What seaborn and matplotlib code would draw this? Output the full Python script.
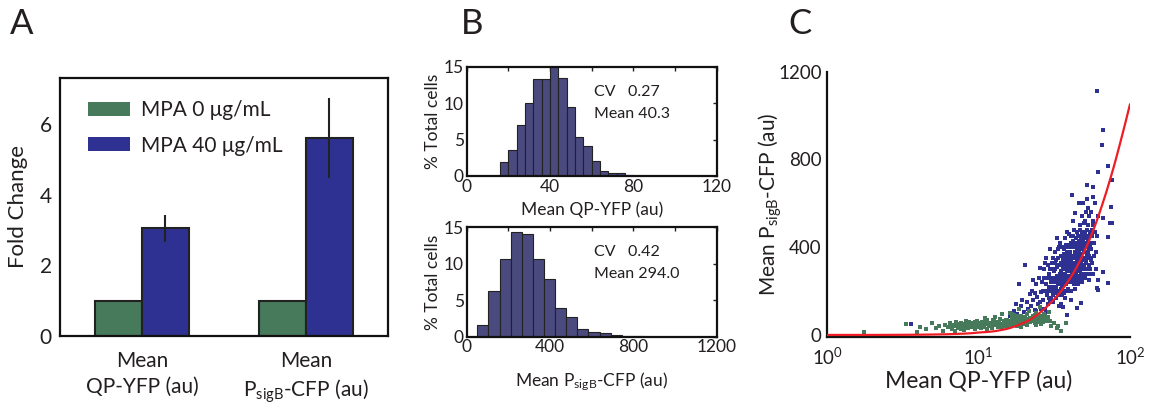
import matplotlib
matplotlib.use("Agg")
import matplotlib.pyplot as plt
import seaborn as sns
import pandas as pd
from matplotlib.patches import Patch
from matplotlib.ticker import MultipleLocator, FixedLocator, LogLocator, NullFormatter

# ---------------- Panel A data ----------------
bar_groups = ["Mean\nQP-YFP (au)", "Mean\nP$_{sigB}$-CFP (au)"]
conditions = ["MPA 0 μg/mL", "MPA 40 μg/mL"]
fold_mpa0 = [1.0, 1.0]
fold_mpa40 = [3.05, 5.6]
err_mpa0 = [0.02, 0.02]
err_mpa40 = [0.38, 1.12]

# ---------------- Panel B data ----------------
qp_edges = [16, 20, 24, 28, 32, 36, 40, 44, 48, 52, 56, 60, 64, 68, 72, 76, 80, 84]
qp_pct = [1.9, 3.5, 7.0, 10.0, 13.3, 13.3, 14.9, 13.4, 9.5, 5.3, 4.1, 2.1, 0.65, 0.4, 0.4, 0.15, 0.05]
qp_stats = ["CV   0.27", "Mean 40.3"]

sigb_edges = [51, 104, 158, 211, 264, 318, 371, 424, 478, 531, 584, 638, 691, 744, 798, 851]
sigb_pct = [1.6, 6.2, 10.7, 14.3, 14.1, 10.6, 7.9, 3.9, 2.7, 1.0, 0.7, 0.45, 0.2, 0.15, 0.1]
sigb_stats = ["CV   0.42", "Mean 294.0"]

# ---------------- Panel C data ----------------
blue_x = [16.2, 17.0, 18.0, 18.6, 19.0, 19.8, 20.3, 20.8, 21.3, 21.7, 19.3, 17.6,
          22.2, 22.6, 23.0, 23.4, 23.8, 24.2, 24.6, 25.0, 25.5, 25.8, 22.8, 24.0, 25.3, 23.6,
          26.2, 26.5, 26.9, 27.3, 27.6, 27.9, 28.2, 28.5, 28.8, 29.1, 29.4, 29.7, 26.0, 27.0, 28.0, 29.0, 29.9, 26.7, 28.6, 27.5,
          30.2, 30.5, 30.8, 31.0, 31.3, 31.6, 31.9, 32.2, 32.5, 32.8, 33.0, 33.3, 33.6, 33.9, 34.2, 34.5, 34.8,
          30.4, 31.2, 32.0, 32.6, 33.4, 34.0, 34.6, 30.9, 31.8, 33.1, 34.4, 32.3, 30.1, 34.9, 33.7,
          35.1, 35.3, 35.6, 35.8, 36.0, 36.2, 36.5, 36.7, 37.0, 37.2, 37.4, 37.7, 37.9, 38.1, 38.3, 38.6, 38.8, 39.0, 39.2, 39.5,
          39.7, 39.9, 35.4, 35.9, 36.4, 36.9, 37.3, 37.8, 38.2, 38.7, 39.1, 39.6, 35.7, 36.6, 37.5, 38.4, 39.3, 36.1, 37.6, 38.9,
          40.1, 40.3, 40.5, 40.8, 41.0, 41.2, 41.5, 41.7, 42.0, 42.2, 42.4, 42.7, 42.9, 43.1, 43.4, 43.6, 43.9, 44.1, 44.4, 44.7,
          44.9, 40.2, 40.7, 41.1, 41.6, 41.9, 42.3, 42.8, 43.2, 43.7, 44.2, 44.6, 40.4, 41.3, 42.6, 43.3, 44.0, 44.8, 40.9, 43.8,
          45.1, 45.3, 45.6, 45.8, 46.0, 46.2, 46.5, 46.8, 47.0, 47.2, 47.5, 47.7, 48.0, 48.2, 48.5, 48.7, 49.0, 49.2, 49.5, 49.8,
          45.5, 46.1, 46.6, 47.1, 47.6, 48.1, 48.6, 49.1, 49.6, 45.9, 46.9, 47.9, 48.9, 49.4, 45.2,
          50.1, 50.4, 50.8, 51.1, 51.4, 51.8, 52.1, 52.5, 52.8, 53.2, 53.6, 54.0, 54.4, 54.8, 50.6, 51.6, 52.3, 53.0, 53.9, 54.6,
          50.2, 51.2, 52.7, 53.4, 54.2,
          55.2, 55.8, 56.3, 56.9, 57.5, 58.2, 58.8, 59.5, 60.3, 61.0, 55.5, 57.0, 58.5, 60.0, 61.5,
          36.3, 38.2, 44.5, 47.6, 41.0,
          60.3, 66.7, 65.0, 61.8, 71.2, 75.8, 74.7, 74.0, 71.8, 60.3, 41.2, 52.0, 56.7, 57.3, 66.7, 75.8, 71.9,
          66.7, 71.9, 61.8, 3.6,
          33.2, 33.8, 34.3, 35.2, 35.5, 36.3, 36.8, 37.1, 37.9, 38.5, 39.4, 39.8, 40.6, 41.4, 41.8, 42.5, 43.0, 43.5, 44.3, 44.9,
          45.4, 46.3, 46.7, 47.3, 47.8, 48.3, 48.8, 49.3, 49.7, 50.3, 50.9, 51.5, 52.0, 52.6, 53.3, 53.8, 54.5, 55.0, 56.0, 57.2,
          33.5, 34.1, 35.0, 35.8, 36.4, 37.0, 37.7, 38.3, 39.0, 39.7, 40.3, 41.0, 41.7, 42.4, 43.1, 43.8, 44.5, 45.2, 45.9, 46.6,
          47.3, 48.0, 48.7, 49.4, 50.1, 51.0, 52.0, 53.0, 54.0, 55.5,
          28.4, 29.3, 30.6, 31.5, 32.4, 30.0, 31.0, 32.0, 29.5, 27.8]
blue_y = [85, 110, 95, 231, 130, 105, 319, 150, 120, 185, 160, 140,
          130, 200, 160, 115, 230, 175, 140, 260, 304, 195, 250, 110, 150, 190,
          240, 160, 300, 200, 120, 350, 260, 180, 320, 220, 390, 150, 120, 260, 105, 280, 240, 200, 140, 330,
          200, 330, 250, 150, 290, 210, 380, 260, 170, 440, 310, 230, 350, 190, 400, 270, 330,
          260, 350, 300, 220, 390, 240, 420, 300, 190, 270, 200, 340, 170, 140, 130,
          210, 330, 270, 180, 400, 300, 240, 350, 200, 440, 280, 320, 230, 380, 260, 470, 300, 210, 350, 410,
          270, 330, 260, 310, 370, 280, 360, 250, 340, 400, 290, 240, 230, 190, 410, 200, 460, 340, 300, 360,
          250, 380, 320, 200, 450, 290, 350, 520, 270, 400, 330, 230, 480, 300, 370, 555, 280, 420, 340, 250,
          390, 300, 420, 360, 260, 310, 450, 360, 410, 320, 290, 470, 270, 240, 300, 250, 360, 300, 340, 440,
          320, 450, 270, 380, 600, 340, 420, 290, 500, 360, 240, 440, 320, 540, 400, 280, 470, 350, 420, 300,
          360, 260, 480, 310, 390, 460, 340, 260, 380, 420, 350, 410, 600, 510, 230,
          380, 300, 460, 560, 340, 420, 280, 500, 380, 450, 320, 540, 400, 470, 260, 620, 350, 580, 360, 300,
          520, 400, 430, 250, 460,
          390, 480, 330, 520, 420, 360, 600, 300, 450, 250, 560, 280, 470, 380, 540,
          129, 91, 122, 144, 160,
          1114, 935, 866, 745, 771, 707, 585, 512, 238, 213, 638, 684, 676, 631, 532, 509, 446,
          289, 236, 205, 50,
          250, 320, 280, 360, 220, 300, 390, 260, 330, 290, 370, 240, 350, 280, 430, 310, 380, 270, 360, 330,
          400, 290, 370, 330, 280, 390, 430, 320, 470, 340, 300, 410, 360, 440, 390, 280, 420, 340, 450, 500,
          180, 230, 290, 250, 320, 170, 270, 310, 380, 200, 260, 400, 300, 350, 210, 380, 260, 330, 430, 270,
          390, 240, 320, 350, 440, 330, 480, 300, 420, 350,
          200, 170, 220, 240, 200, 260, 180, 330, 300, 230]

green_x = [1.75, 3.3, 3.9, 4.1, 4.5, 4.9, 5.2, 5.5, 5.8, 6.0,
           6.3, 6.5, 6.7, 6.9, 7.1, 7.3, 7.5, 7.7, 7.9, 8.1, 8.3, 8.5, 8.7, 8.9, 9.1, 9.3, 9.5, 9.7, 9.9,
           6.6, 7.2, 7.8, 8.4, 9.0, 9.6, 7.0, 8.0,
           10.2, 10.5, 10.8, 11.1, 11.4, 11.7, 12.0, 12.3, 12.6, 12.9, 13.2, 13.5, 13.8, 14.1, 14.4, 14.7,
           10.4, 11.0, 11.9, 12.8, 13.6, 14.3, 10.7, 12.1,
           15.1, 15.5, 15.9, 16.3, 16.7, 17.1, 17.5, 17.9, 18.3, 18.7, 19.1, 19.5, 19.9, 20.4, 20.9, 21.4, 21.9,
           15.3, 16.0, 17.0, 18.0, 19.0, 20.0, 21.0,
           22.4, 22.9, 23.4, 23.9, 24.5, 25.1, 25.7, 26.3, 27.0, 27.8, 28.6, 30.0, 31.5, 33.0, 35.0, 24.0, 26.0,
           29.0, 25.5, 38.0, 33.5, 21.5, 18.5, 16.5,
           6.8, 7.4, 7.6, 8.2, 8.6, 9.2, 9.8, 10.1, 10.6, 11.2, 11.6, 12.2, 12.7, 13.1, 13.7, 14.2, 14.8, 15.2, 15.7, 16.2,
           16.8, 17.3, 17.8, 18.4, 19.2, 19.7, 20.2, 20.7, 21.2, 22.0, 22.7, 23.2, 23.7, 24.3, 24.8, 25.4, 26.5, 27.4, 28.2, 29.5,
           9.4, 11.3, 13.3, 15.8, 17.7, 19.4, 21.7, 23.6, 26.8, 12.4]
green_y = [15, 50, 15, 35, 25, 53, 30, 40, 20, 45,
           35, 55, 28, 42, 60, 33, 48, 25, 52, 38, 65, 30, 45, 55, 35, 50, 28, 62, 40,
           40, 50, 35, 48, 42, 50, 20, 22,
           45, 60, 35, 52, 70, 40, 55, 30, 65, 48, 58, 38, 72, 50, 42, 62,
           30, 75, 45, 80, 52, 95, 50, 40,
           55, 70, 45, 62, 80, 50, 68, 40, 75, 58, 88, 62, 48, 72, 95, 60, 78,
           35, 100, 90, 55, 35, 58, 45,
           65, 85, 55, 100, 70, 60, 88, 75, 95, 65, 80, 40, 55, 30, 20, 45, 50,
           105, 129, 55, 43, 110, 120, 95,
           45, 38, 55, 30, 58, 46, 34, 55, 42, 62, 48, 36, 58, 44, 60, 35, 50, 68, 52, 44,
           70, 58, 85, 62, 70, 55, 82, 64, 72, 58, 76, 68, 90, 60, 82, 75, 70, 88, 72, 62,
           60, 28, 45, 55, 78, 50, 66, 80, 60, 68]

fit_x = [1, 2, 3, 4, 5, 6, 7, 8, 9, 10, 11, 12, 13, 14, 15, 16, 17, 18, 19, 20,
         22, 24, 26, 28, 30, 32, 34, 36, 38, 40, 42.5, 45, 47.5, 50, 52.5, 55, 57.5, 60,
         62.5, 65, 67.5, 70, 72.5, 75, 77.5, 80, 85, 90, 95, 100]
fit_y = [0, 0, 0.5, 1, 2, 3, 4.5, 6, 8, 11, 13, 15, 18, 22, 26, 31, 37, 43, 50, 56,
         70, 88, 107, 127, 147, 167, 188, 210, 233, 256, 285, 316, 348, 381, 414, 447, 481, 516,
         551, 586, 621, 655, 690, 724, 758, 792, 860, 926, 990, 1052]

# ---------------- Styling ----------------
GREEN = "#47795b"
BLUE = "#2e3192"
HIST = "#4b4a7f"
RED = "#ee1c24"
EDGE = "#222222"

sns.set_style("white")
plt.rcParams["font.family"] = ["Lato", "DejaVu Sans"]
plt.rcParams["mathtext.default"] = "regular"
plt.rcParams["text.color"] = "#231f20"
plt.rcParams["axes.labelcolor"] = "#231f20"
plt.rcParams["xtick.color"] = "#231f20"
plt.rcParams["ytick.color"] = "#231f20"

fig = plt.figure(figsize=(11.52, 4.07), dpi=100)
W, H = 1152.0, 407.0


def ax_px(left, top, right, bottom):
    return fig.add_axes([left / W, 1 - bottom / H, (right - left) / W, (bottom - top) / H])


# ---------------- Panel A ----------------
axA = ax_px(60, 78, 388, 336)
dfA = pd.DataFrame({
    "group": bar_groups * 2,
    "cond": [conditions[0]] * 2 + [conditions[1]] * 2,
    "fold": fold_mpa0 + fold_mpa40,
})
sns.barplot(data=dfA, x="group", y="fold", hue="cond", palette=[GREEN, BLUE],
            width=0.57, gap=0, edgecolor=EDGE, linewidth=1.5, errorbar=None,
            legend=False, saturation=1, ax=axA)
errs = err_mpa0 + err_mpa40
xs = [p.get_x() + p.get_width() / 2 for p in axA.patches]
ys = [p.get_height() for p in axA.patches]
axA.errorbar(xs, ys, yerr=errs, fmt="none", ecolor=EDGE, elinewidth=1.5, capsize=0, zorder=5)
axA.set_xlim(-0.5, 1.5)
axA.set_ylim(0, 7.3)
axA.yaxis.set_major_locator(FixedLocator([0, 2, 4, 6]))
axA.yaxis.set_minor_locator(MultipleLocator(1))
axA.tick_params(axis="y", which="both", direction="in", length=4, width=1, labelsize=15, pad=6)
axA.tick_params(axis="x", length=0, labelsize=15, pad=11)
for lab in axA.get_xticklabels():
    lab.set_linespacing(1.35)
axA.set_xlabel("")
axA.set_ylabel("Fold Change", fontsize=16, labelpad=8)
for s in axA.spines.values():
    s.set_visible(True)
    s.set_linewidth(1.6)
    s.set_color("#111111")
handles = [Patch(facecolor=GREEN, edgecolor="none"), Patch(facecolor=BLUE, edgecolor="none")]
axA.legend(handles, conditions, loc="upper left", bbox_to_anchor=(0.085, 0.915), frameon=False,
           fontsize=15, handlelength=2.0, handleheight=0.65, handletextpad=0.55,
           labelspacing=0.75, borderpad=0, borderaxespad=0)

# ---------------- Panel B ----------------
def hist_panel(ax, edges, pct, xmax, major, minor, stats, xlabel, lpad):
    centers = [(edges[i] + edges[i + 1]) / 2 for i in range(len(pct))]
    sns.histplot(x=centers, weights=pct, bins=edges, color=HIST, edgecolor=EDGE,
                 linewidth=0.8, alpha=1, ax=ax)
    ax.set_xlim(0, xmax)
    ax.set_ylim(0, 15)
    ax.xaxis.set_major_locator(FixedLocator(major))
    ax.xaxis.set_minor_locator(FixedLocator(minor))
    ax.yaxis.set_major_locator(FixedLocator([0, 5, 10, 15]))
    ax.tick_params(which="both", direction="in", length=3, width=1, top=True, right=True,
                   labelsize=12.5, pad=2)
    for s in ax.spines.values():
        s.set_visible(True)
        s.set_linewidth(1.6)
        s.set_color("#111111")
    ax.set_ylabel("% Total cells", fontsize=12.5, labelpad=2)
    ax.set_xlabel(xlabel, fontsize=12.5, labelpad=lpad)
    ax.text(0.51, 0.77, stats[0], transform=ax.transAxes, fontsize=11.5, va="center", ha="left")
    ax.text(0.51, 0.57, stats[1], transform=ax.transAxes, fontsize=11.5, va="center", ha="left")


axB1 = ax_px(466.7, 66.7, 716.7, 176)
hist_panel(axB1, qp_edges, qp_pct, 120, [0, 40, 80, 120], [20, 60, 100], qp_stats,
           "Mean QP-YFP (au)", 5)
axB2 = ax_px(466.7, 227.3, 716.7, 336.7)
hist_panel(axB2, sigb_edges, sigb_pct, 1200, [0, 400, 800, 1200], [200, 600, 1000], sigb_stats,
           "Mean P$_{sigB}$-CFP (au)", 11)

# ---------------- Panel C ----------------
axC = ax_px(827.3, 71.7, 1130, 336.7)
sns.scatterplot(x=blue_x, y=blue_y, color=BLUE, marker="s", s=5, linewidth=0, ax=axC, zorder=2)
sns.scatterplot(x=green_x, y=green_y, color=GREEN, marker="s", s=5, linewidth=0, ax=axC, zorder=3)
sns.lineplot(x=fit_x, y=fit_y, color=RED, linewidth=1.6, ax=axC, zorder=4)
axC.set_xscale("log")
axC.set_xlim(1, 100)
axC.set_ylim(-8, 1200)
axC.yaxis.set_major_locator(FixedLocator([0, 400, 800, 1200]))
axC.yaxis.set_minor_locator(FixedLocator([200, 600, 1000]))
axC.xaxis.set_major_locator(LogLocator(base=10))
axC.xaxis.set_minor_locator(LogLocator(base=10, subs=range(2, 10)))
axC.xaxis.set_minor_formatter(NullFormatter())
axC.tick_params(which="both", direction="in", length=3, width=1, labelsize=13.5, pad=4)
axC.tick_params(axis="x", pad=7)
sns.despine(ax=axC)
for s in ("left", "bottom"):
    axC.spines[s].set_linewidth(1.6)
    axC.spines[s].set_color("#111111")
axC.set_xlabel("Mean QP-YFP (au)", fontsize=16.5, labelpad=2)
axC.set_ylabel("Mean P$_{sigB}$-CFP (au)", fontsize=15)
axC.yaxis.set_label_coords(-0.143, 0.5)

# ---------------- Panel letters ----------------
fig.text(10 / W, 1 - 8 / H, "A", fontsize=25, va="top", ha="left")
fig.text(461 / W, 1 - 8 / H, "B", fontsize=25, va="top", ha="left")
fig.text(788 / W, 1 - 8 / H, "C", fontsize=25, va="top", ha="left")

fig.savefig("out.png", dpi=100)
